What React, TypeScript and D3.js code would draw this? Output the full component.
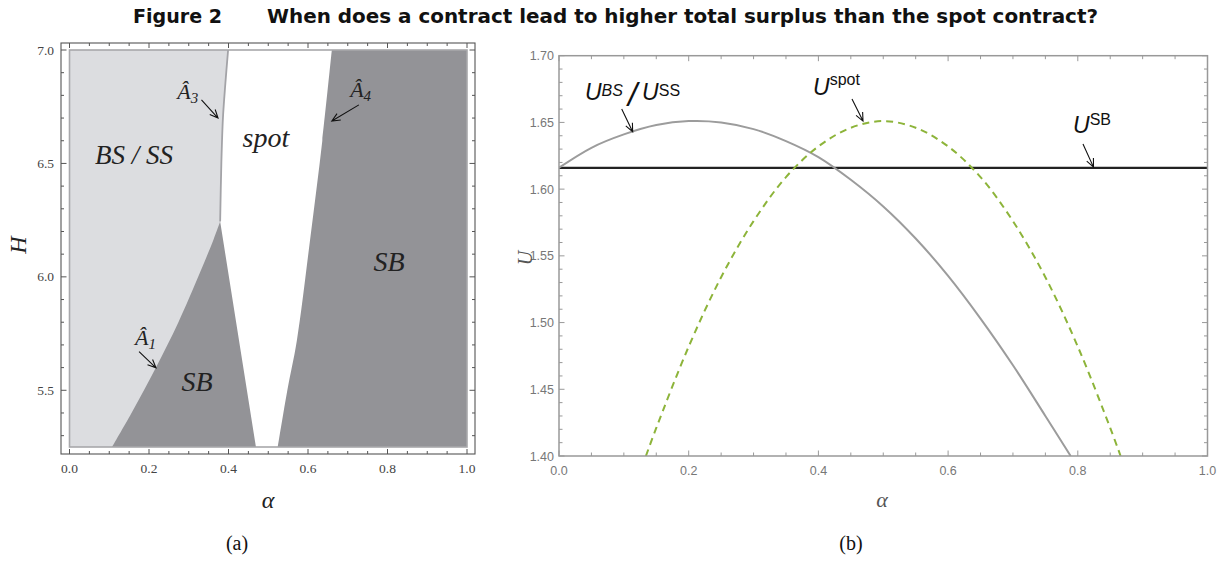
import React from "react";
import * as d3 from "d3";

// ---------- Panel (a) data: region boundaries in (alpha, H) ----------
const leftXMajor = [0, 0.2, 0.4, 0.6, 0.8, 1.0];
const leftYMajor = [5.5, 6.0, 6.5, 7.0];
const a1Boundary: [number, number][] = [
  [0.107, 5.25], [0.156, 5.4], [0.2168, 5.598], [0.274, 5.8], [0.328, 6.018], [0.362, 6.163], [0.379, 6.244],
];
const a3Boundary: [number, number][] = [
  [0.379, 6.244], [0.382, 6.5], [0.386, 6.7], [0.392, 6.85], [0.399, 7.0],
];
const spotLowerLeft: [number, number][] = [[0.379, 6.244], [0.469, 5.25]];
const a4Boundary: [number, number][] = [
  [0.524, 5.25], [0.548, 5.5], [0.572, 5.72], [0.605, 6.16], [0.636, 6.6], [0.66, 7.0],
];

// ---------- Panel (b) data ----------
const rightXMajor = [0, 0.2, 0.4, 0.6, 0.8, 1.0];
const rightYMajor = [1.4, 1.45, 1.5, 1.55, 1.6, 1.65, 1.7];
const alphaBS = [0, 0.05, 0.1, 0.15, 0.2, 0.25, 0.3, 0.35, 0.4, 0.45, 0.5, 0.55, 0.6, 0.65, 0.7, 0.75, 0.789];
const uBS = [1.616, 1.631, 1.641, 1.648, 1.651, 1.650, 1.645, 1.636, 1.624, 1.607, 1.587, 1.563, 1.535, 1.503, 1.468, 1.430, 1.400];
const alphaSpot = [0.134, 0.15, 0.2, 0.25, 0.3, 0.35, 0.4, 0.45, 0.5, 0.55, 0.6, 0.65, 0.7, 0.75, 0.8, 0.85, 0.866];
const uSpot = [1.400, 1.421, 1.482, 1.534, 1.576, 1.609, 1.632, 1.646, 1.651, 1.646, 1.632, 1.609, 1.576, 1.534, 1.482, 1.421, 1.400];
const uSB = 1.616;

const SERIF = "'Liberation Serif', 'Times New Roman', serif";
const SANS = "'Liberation Sans', Arial, sans-serif";
const TITLE_FONT = "'DejaVu Sans Condensed', 'Liberation Sans Narrow', 'Liberation Sans', sans-serif";

function Arrow({ x1, y1, x2, y2 }: { x1: number; y1: number; x2: number; y2: number }) {
  const th = Math.atan2(y2 - y1, x2 - x1);
  const L = 9, a = 0.42;
  const h1 = [x2 - L * Math.cos(th - a), y2 - L * Math.sin(th - a)];
  const h2 = [x2 - L * Math.cos(th + a), y2 - L * Math.sin(th + a)];
  return (
    <path
      d={`M${x1},${y1}L${x2},${y2}M${h1[0]},${h1[1]}L${x2},${y2}L${h2[0]},${h2[1]}`}
      fill="none"
      stroke="#111"
      strokeWidth={1.1}
    />
  );
}

export default function App() {
  // Panel (a) scales
  const xL = d3.scaleLinear().domain([0, 1]).range([69.5, 467]);
  const yL = d3.scaleLinear().domain([5.25, 7]).range([447, 50]);
  const fL = { x0: 61, x1: 475, y0: 43, y1: 454 };
  const pt = (p: [number, number]) => `${xL(p[0])},${yL(p[1])}`;
  const smooth = d3.line<[number, number]>().x((d) => xL(d[0])).y((d) => yL(d[1])).curve(d3.curveCatmullRom);

  const lightPath =
    `M${pt([0, 5.25])}L${pt(a1Boundary[0])}` +
    smooth(a1Boundary)!.replace(/^M[^LC]*/, "") +
    smooth(a3Boundary)!.replace(/^M[^LC]*/, "") +
    `L${pt([0, 7])}Z`;
  const whitePath =
    smooth(a3Boundary)! +
    `L${pt(a4Boundary[a4Boundary.length - 1])}` +
    smooth(a4Boundary.slice().reverse() as [number, number][])!.replace(/^M[^LC]*/, "") +
    `L${pt(spotLowerLeft[1])}L${pt(spotLowerLeft[0])}Z`;

  const leftXMinor = d3.range(0, 1.0001, 0.05);
  const leftYMinor = d3.range(5.3, 7.0001, 0.1);

  // Panel (b) scales
  const xR = d3.scaleLinear().domain([0, 1]).range([559, 1207.5]);
  const yR = d3.scaleLinear().domain([1.4, 1.7]).range([456, 55.7]);
  const rightXMinor = d3.range(0, 1.0001, 0.05);
  const rightYMinor = d3.range(1.4, 1.7001, 0.01);
  const lineR = d3.line<[number, number]>().x((d) => xR(d[0])).y((d) => yR(d[1])).curve(d3.curveCatmullRom);
  const bsPts = alphaBS.map((a, i) => [a, uBS[i]] as [number, number]);
  const spotPts = alphaSpot.map((a, i) => [a, uSpot[i]] as [number, number]);

  const isMajor = (v: number, majors: number[]) => majors.some((m) => Math.abs(m - v) < 1e-6);

  return (
    <svg width={1231} height={563} style={{ position: "absolute", left: 0, top: 0, background: "#fff" }}>
      {/* Title */}
      <text x={133} y={23} fontFamily={TITLE_FONT} fontWeight="bold" fontSize={19} fill="#111" textLength={89} lengthAdjust="spacingAndGlyphs">
        Figure 2
      </text>
      <text x={267} y={23} fontFamily={TITLE_FONT} fontWeight="bold" fontSize={19} fill="#111" textLength={831} lengthAdjust="spacingAndGlyphs">
        When does a contract lead to higher total surplus than the spot contract?
      </text>

      {/* ---------------- Panel (a) ---------------- */}
      <rect x={xL(0)} y={yL(7)} width={xL(1) - xL(0)} height={yL(5.25) - yL(7)} fill="#939397" />
      <path d={lightPath} fill="#dcdde0" />
      <path d={whitePath} fill="#ffffff" />
      <path d={smooth(a3Boundary)!} fill="none" stroke="#a3a3a7" strokeWidth={1.8} />
      <rect x={xL(0)} y={yL(7)} width={xL(1) - xL(0)} height={yL(5.25) - yL(7)} fill="none" stroke="#a8a8ab" strokeWidth={1.6} />

      {/* frame */}
      <rect x={fL.x0} y={fL.y0} width={fL.x1 - fL.x0} height={fL.y1 - fL.y0} fill="none" stroke="#555" strokeWidth={1.1} />
      {leftXMinor.map((v) => {
        const len = isMajor(v, leftXMajor) ? 5 : 3;
        return (
          <g key={"lx" + v}>
            <line x1={xL(v)} x2={xL(v)} y1={fL.y1} y2={fL.y1 - len} stroke="#555" strokeWidth={1} />
            <line x1={xL(v)} x2={xL(v)} y1={fL.y0} y2={fL.y0 + len} stroke="#555" strokeWidth={1} />
          </g>
        );
      })}
      {leftYMinor.map((v) => {
        const len = isMajor(v, leftYMajor) ? 5.5 : 3;
        return (
          <g key={"ly" + v}>
            <line x1={fL.x0} x2={fL.x0 + len} y1={yL(v)} y2={yL(v)} stroke="#555" strokeWidth={1} />
            <line x1={fL.x1} x2={fL.x1 - len} y1={yL(v)} y2={yL(v)} stroke="#555" strokeWidth={1} />
          </g>
        );
      })}
      {leftXMajor.map((v) => (
        <text key={"lxt" + v} x={xL(v)} y={473} textAnchor="middle" fontFamily={SERIF} fontSize={13.5} fill="#444">
          {d3.format(".1f")(v)}
        </text>
      ))}
      {leftYMajor.map((v) => (
        <text key={"lyt" + v} x={54} y={yL(v) + 4.5} textAnchor="end" fontFamily={SERIF} fontSize={13.5} fill="#444">
          {d3.format(".1f")(v)}
        </text>
      ))}
      <text transform="translate(26,245) rotate(-90)" textAnchor="middle" fontFamily={SERIF} fontStyle="italic" fontSize={24} fill="#222">
        H
      </text>
      <text x={268} y={508} textAnchor="middle" fontFamily={SERIF} fontStyle="italic" fontSize={24} fill="#222">
        α
      </text>
      <text x={237} y={550} textAnchor="middle" fontFamily={SERIF} fontSize={20} fill="#111">
        (a)
      </text>

      {/* region labels */}
      <text x={xL(0.162)} y={yL(6.498)} textAnchor="middle" fontFamily={SERIF} fontStyle="italic" fontSize={27} fill="#222">
        BS / SS
      </text>
      <text x={xL(0.494)} y={yL(6.573)} textAnchor="middle" fontFamily={SERIF} fontStyle="italic" fontSize={28} fill="#222">
        spot
      </text>
      <text x={xL(0.804)} y={yL(6.026)} textAnchor="middle" fontFamily={SERIF} fontStyle="italic" fontSize={28} fill="#222">
        SB
      </text>
      <text x={xL(0.321)} y={yL(5.498)} textAnchor="middle" fontFamily={SERIF} fontStyle="italic" fontSize={28} fill="#222">
        SB
      </text>

      {/* A-hat labels and arrows */}
      <text x={xL(0.271)} y={yL(6.784)} fontFamily={SERIF} fontStyle="italic" fontSize={22} fill="#222">
        Â<tspan fontSize={15} dy={4}>3</tspan>
      </text>
      <Arrow x1={xL(0.332)} y1={yL(6.78)} x2={xL(0.3736)} y2={yL(6.7)} />
      <text x={xL(0.165)} y={yL(5.7)} fontFamily={SERIF} fontStyle="italic" fontSize={22} fill="#222">
        Â<tspan fontSize={15} dy={4}>1</tspan>
      </text>
      <Arrow x1={xL(0.175)} y1={yL(5.67)} x2={xL(0.2176)} y2={yL(5.599)} />
      <text x={xL(0.706)} y={yL(6.793)} fontFamily={SERIF} fontStyle="italic" fontSize={22} fill="#222">
        Â<tspan fontSize={15} dy={4}>4</tspan>
      </text>
      <Arrow x1={xL(0.728)} y1={yL(6.758)} x2={xL(0.66)} y2={yL(6.687)} />

      {/* ---------------- Panel (b) ---------------- */}
      <defs>
        <clipPath id="clipR">
          <rect x={xR(0)} y={yR(1.7)} width={xR(1) - xR(0)} height={yR(1.4) - yR(1.7)} />
        </clipPath>
      </defs>
      <g clipPath="url(#clipR)">
        <line x1={xR(0)} x2={xR(1)} y1={yR(uSB)} y2={yR(uSB)} stroke="#222" strokeWidth={2.2} />
        <path d={lineR(bsPts)!} fill="none" stroke="#9c9c9c" strokeWidth={2} />
        <path d={lineR(spotPts)!} fill="none" stroke="#8db43a" strokeWidth={2} strokeDasharray="7,5" />
      </g>
      <rect x={xR(0)} y={yR(1.7)} width={xR(1) - xR(0)} height={yR(1.4) - yR(1.7)} fill="none" stroke="#999" strokeWidth={1.5} />
      {rightXMinor.map((v) => {
        const len = isMajor(v, rightXMajor) ? 5.5 : 3.5;
        return (
          <g key={"rx" + v}>
            <line x1={xR(v)} x2={xR(v)} y1={yR(1.4)} y2={yR(1.4) - len} stroke="#999" strokeWidth={1} />
            <line x1={xR(v)} x2={xR(v)} y1={yR(1.7)} y2={yR(1.7) + len} stroke="#999" strokeWidth={1} />
          </g>
        );
      })}
      {rightYMinor.map((v) => {
        const len = isMajor(v, rightYMajor) ? 5.5 : 3.5;
        return (
          <g key={"ry" + v.toFixed(2)}>
            <line x1={xR(0)} x2={xR(0) + len} y1={yR(v)} y2={yR(v)} stroke="#999" strokeWidth={1} />
            <line x1={xR(1)} x2={xR(1) - len} y1={yR(v)} y2={yR(v)} stroke="#999" strokeWidth={1} />
          </g>
        );
      })}
      {rightXMajor.map((v) => (
        <text key={"rxt" + v} x={xR(v)} y={475} textAnchor="middle" fontFamily={SANS} fontSize={12.5} fill="#777">
          {d3.format(".1f")(v)}
        </text>
      ))}
      {rightYMajor.map((v) => (
        <text key={"ryt" + v} x={554} y={yR(v) + 4.5} textAnchor="end" fontFamily={SANS} fontSize={12.5} fill="#777">
          {d3.format(".2f")(v)}
        </text>
      ))}
      <text transform="translate(532,258) rotate(-90)" textAnchor="middle" fontFamily={SERIF} fontStyle="italic" fontSize={20} fill="#555">
        U
      </text>
      <text x={882} y={507} textAnchor="middle" fontFamily={SERIF} fontStyle="italic" fontSize={22} fill="#555">
        α
      </text>
      <text x={851} y={550} textAnchor="middle" fontFamily={SERIF} fontSize={20} fill="#111">
        (b)
      </text>

      {/* curve labels */}
      <text x={xR(0.04)} y={yR(1.6668)} fontFamily={SANS} fontStyle="italic" fontSize={23} fill="#111">
        U<tspan fontSize={16} dy={-4}>BS</tspan>
        <tspan fontSize={33} dy={10} dx={5}>/</tspan>
        <tspan dy={-6} dx={5}>U</tspan>
        <tspan fontSize={16} dy={-4} fontStyle="normal">SS</tspan>
      </text>
      <Arrow x1={xR(0.0967)} y1={yR(1.66)} x2={xR(0.1136)} y2={yR(1.643)} />
      <text x={xR(0.3917)} y={yR(1.6705)} fontFamily={SANS} fontStyle="italic" fontSize={23} fill="#111">
        U<tspan fontSize={16} dy={-10} fontStyle="normal">spot</tspan>
      </text>
      <Arrow x1={xR(0.4518)} y1={yR(1.6675)} x2={xR(0.4688)} y2={yR(1.651)} />
      <text x={xR(0.7926)} y={yR(1.642)} fontFamily={SANS} fontStyle="italic" fontSize={23} fill="#111">
        U<tspan fontSize={16} dy={-8} fontStyle="normal">SB</tspan>
      </text>
      <Arrow x1={xR(0.808)} y1={yR(1.6338)} x2={xR(0.8242)} y2={yR(1.6165)} />
    </svg>
  );
}
